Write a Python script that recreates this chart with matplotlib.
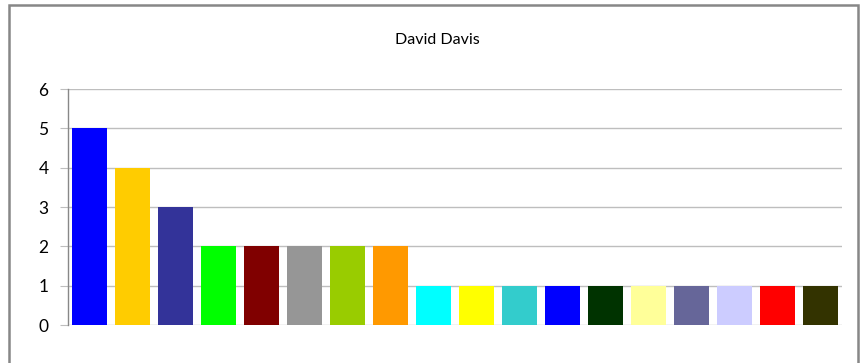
import matplotlib
matplotlib.use("Agg")
import matplotlib.pyplot as plt
from matplotlib.patches import Rectangle

plt.rcParams['font.family'] = ['Lato', 'DejaVu Sans']

title = "David Davis"
values = [5, 4, 3, 2, 2, 2, 2, 2, 1, 1, 1, 1, 1, 1, 1, 1, 1, 1]
colors = ["#0000FF", "#FFCC00", "#333399", "#00FF00", "#800000", "#969696",
          "#99CC00", "#FF9900", "#00FFFF", "#FFFF00", "#33CCCC", "#0000FF",
          "#003300", "#FFFF99", "#666699", "#CCCCFF", "#FF0000", "#333300"]
yticks = [0, 1, 2, 3, 4, 5, 6]

W, H = 868, 363
fig = plt.figure(figsize=(W / 100, H / 100), dpi=100)
fig.patch.set_facecolor("white")

# outer chart frame
fig.patches.append(Rectangle((9 / W, -0.05), (858 - 9) / W, 1.05 - 5 / H,
                             transform=fig.transFigure, fill=False,
                             edgecolor="#878787", linewidth=1.8))

ax = fig.add_axes([68 / W, 1 - 325 / H, (842 - 68) / W, (325 - 89) / H])
x = list(range(len(values)))
ax.bar(x, values, width=0.81, color=colors, zorder=3)
ax.set_xlim(-0.5, len(values) - 0.5)
ax.set_ylim(0, 6)
ax.set_yticks(yticks)
ax.set_xticks([])
ax.yaxis.grid(True, color="#BEBEBE", linewidth=1.0, zorder=0)
for s in ["top", "right", "bottom"]:
    ax.spines[s].set_visible(False)
ax.spines["left"].set_color("#888888")
ax.spines["left"].set_linewidth(1.0)
ax.tick_params(axis="y", length=6, color="#BEBEBE", labelsize=12.5, pad=8,
               labelcolor="#000000")

fig.text(437 / W, 1 - 40 / H, title, ha="center", va="center", fontsize=11.5)

fig.savefig("out.png", dpi=100)
